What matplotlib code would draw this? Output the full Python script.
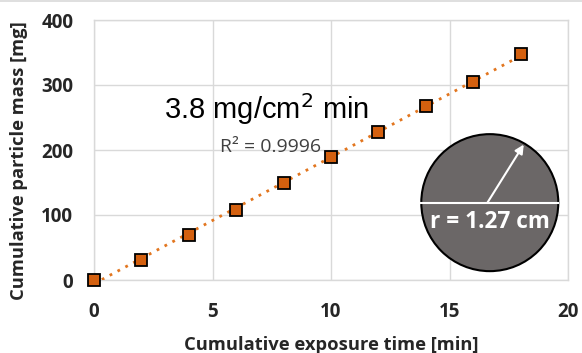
import numpy as np
import matplotlib
matplotlib.use("Agg")
import matplotlib.pyplot as plt
from matplotlib.patches import Ellipse
from matplotlib.lines import Line2D

# Cumulative exposure time [min] and cumulative particle mass [mg]
time_min = [0, 2, 4, 6, 8, 10, 12, 14, 16, 18]
mass_mg = [0, 31, 70, 108, 149, 190, 228, 267, 305, 347]
x_ticks = [0, 5, 10, 15, 20]
y_ticks = [0, 100, 200, 300, 400]
rate_label = "3.8 mg/cm$^2$ min"
r2_label = "R² = 0.9996"
radius_label = "r = 1.27 cm"

plt.rcParams['font.family'] = ['Open Sans', 'DejaVu Sans']

fig = plt.figure(figsize=(5.82, 3.53), dpi=100)
fig.add_artist(Line2D([0, 1], [0.998, 0.998], transform=fig.transFigure,
                      color='#d9d9d9', linewidth=1.2))
ax = fig.add_axes([94 / 582, 73 / 353, 474 / 582, 260 / 353])

ax.set_xlim(0, 20)
ax.set_ylim(0, 400)
ax.set_xticks(x_ticks)
ax.set_yticks(y_ticks)
ax.grid(True, color='#d9d9d9', linewidth=1.0)
ax.set_axisbelow(True)
for s in ax.spines.values():
    s.set_color('#d9d9d9')
    s.set_linewidth(1.0)
ax.tick_params(length=0, labelsize=13.5, labelcolor='#262626')
ax.tick_params(axis='x', pad=16)
ax.tick_params(axis='y', pad=15)
for lab in ax.get_xticklabels() + ax.get_yticklabels():
    lab.set_fontweight('bold')

# Linear trendline through the measured points
coef = np.polyfit(time_min, mass_mg, 1)
xs = np.array([time_min[0], time_min[-1]])
ax.plot(xs, np.polyval(coef, xs), linestyle=(0, (1, 2.2)), color='#e2761f',
        linewidth=2.0, zorder=3)
ax.plot(time_min, mass_mg, linestyle='none', marker='s', markersize=9,
        markerfacecolor='#d4600f', markeredgecolor='black',
        markeredgewidth=1.3, zorder=4, clip_on=False)

ax.set_xlabel("Cumulative exposure time [min]", fontsize=13.2,
              fontweight='bold', color='#262626', labelpad=10)
ax.set_ylabel("Cumulative particle mass [mg]", fontsize=13.2,
              fontweight='bold', color='#262626')
ax.yaxis.set_label_coords(-0.139, 0.46)

ax.text(2.95, 263, rate_label, fontsize=21, family='Liberation Sans',
        ha='left', va='center', color='black')
ax.text(5.3, 204, r2_label, fontsize=14, ha='left', va='center',
        color='#404040')

# Sample disk sketch
cx, cy = 16.70, 119.0
rx, ry = 68.5 / 23.7, 68.5 / 0.65
ax.add_patch(Ellipse((cx, cy), 2 * rx, 2 * ry, facecolor='#6b6767',
                     edgecolor='black', linewidth=1.5, zorder=5))
ax.plot([cx - rx, cx + rx], [cy, cy], color='white', linewidth=1.5, zorder=6)
ang = np.deg2rad(58)
ax.annotate("", xy=(cx - 0.1 + rx * np.cos(ang), cy + ry * np.sin(ang)),
            xytext=(cx - 0.1, cy),
            arrowprops=dict(arrowstyle='-|>', color='white', lw=1.5,
                            mutation_scale=13, shrinkA=0, shrinkB=0),
            zorder=7)
ax.text(cx, cy - 30, radius_label, fontsize=16.3, fontweight='bold',
        color='white', ha='center', va='center', zorder=7)

fig.savefig("out.png", dpi=100)
